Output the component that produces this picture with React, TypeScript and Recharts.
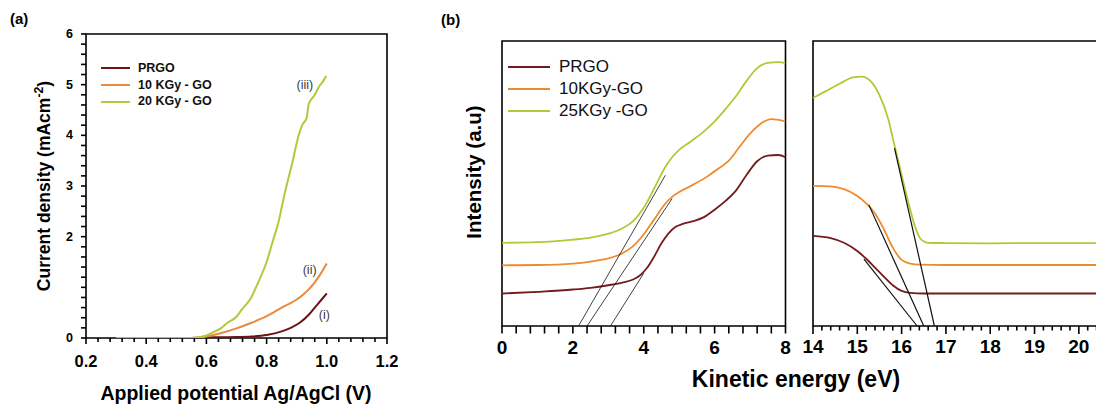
import React from "react";
import {
  Legend,
  Line,
  LineChart,
  ReferenceArea,
  ReferenceDot,
  ReferenceLine,
  XAxis,
  YAxis,
} from "recharts";

const FONT = '"Liberation Sans", Arial, Helvetica, sans-serif';

// ---------- (a) current density vs applied potential ----------
const A_NAMES = ["PRGO", "10 KGy - GO", "20 KGy - GO"];
const A_COLORS = ["#6e1216", "#e98a3c", "#b3c83c"];

const A_PRGO_X = [0.3, 0.5, 0.6, 0.65, 0.7, 0.75, 0.8, 0.85, 0.88, 0.91, 0.94, 0.96, 0.98, 1.0];
const A_PRGO_Y = [0, 0, 0.01, 0.015, 0.02, 0.03, 0.06, 0.13, 0.2, 0.3, 0.46, 0.6, 0.74, 0.88];

const A_10K_X = [0.3, 0.55, 0.58, 0.6, 0.65, 0.7, 0.75, 0.8, 0.85, 0.9, 0.92, 0.94, 0.96, 0.98, 1.0];
const A_10K_Y = [0, 0, 0.01, 0.03, 0.1, 0.19, 0.3, 0.43, 0.6, 0.76, 0.85, 0.96, 1.1, 1.27, 1.47];

const A_20K_X = [0.3, 0.55, 0.58, 0.6, 0.625, 0.65, 0.67, 0.7, 0.72, 0.745, 0.77, 0.8, 0.82, 0.84, 0.86, 0.885, 0.91, 0.92, 0.933, 0.94, 0.958, 0.975, 0.987, 0.998];
const A_20K_Y = [0, 0, 0.02, 0.05, 0.12, 0.2, 0.3, 0.42, 0.58, 0.76, 1.07, 1.5, 1.9, 2.3, 2.85, 3.45, 4.07, 4.22, 4.34, 4.62, 4.78, 4.97, 5.06, 5.17];

const A_X_LABELS = [0.2, 0.4, 0.6, 0.8, 1.0, 1.2];
const A_Y_LABELS = [0, 2, 3, 4, 5, 6];
const A_TAGS = ["(i)", "(ii)", "(iii)"];
const A_TAG_X = [0.992, 0.943, 0.927];
const A_TAG_Y = [0.45, 1.34, 4.99];

// ---------- (b) spectra, low and high kinetic energy windows ----------
const B_NAMES = ["PRGO", "10KGy-GO", "25KGy -GO"];
const B_COLORS = ["#741b1b", "#ef8b2c", "#b4c835"];

const B_LO_PRGO_X = [0, 1, 2, 2.5, 3, 3.4, 3.7, 3.9, 4.1, 4.3, 4.5, 4.7, 4.9, 5.1, 5.4, 5.7, 6.0, 6.3, 6.6, 6.9, 7.2, 7.5, 7.8, 8.0];
const B_LO_PRGO_Y = [11.4, 12.0, 12.8, 13.4, 14.3, 15.2, 16.3, 17.8, 20.5, 24.5, 29, 32.5, 34.8, 35.8, 36.8, 38.2, 40.8, 43.8, 47.5, 53, 57.8, 59.8, 60, 59.2];

const B_LO_10K_X = [0, 1, 2, 2.5, 3, 3.4, 3.7, 4.0, 4.3, 4.6, 4.8, 5.0, 5.4, 5.8, 6.1, 6.4, 6.7, 7.0, 7.3, 7.6, 8.0];
const B_LO_10K_Y = [21.3, 21.4, 21.9, 22.6, 23.7, 25.5, 28, 32.2, 37.5, 42.8, 45.3, 47, 49.6, 52.5, 55.2, 58, 62.8, 67.5, 71, 72.6, 71.8];

const B_LO_25K_X = [0, 1, 2, 2.5, 3, 3.4, 3.7, 4.0, 4.3, 4.6, 4.8, 5.0, 5.3, 5.7, 6.0, 6.3, 6.6, 6.9, 7.2, 7.5, 7.8, 8.0];
const B_LO_25K_Y = [29.2, 29.4, 30.3, 31.0, 32.4, 34.3, 36.8, 41.5, 48.4, 55.6, 59.2, 61.8, 64.5, 68.3, 71.8, 76, 80.6, 86, 90.5, 92.3, 92.6, 92.2];

const B_HI_PRGO_X = [14, 14.4, 14.7, 15, 15.2, 15.4, 15.6, 15.8, 16, 16.2, 16.5, 17, 18, 19, 20, 20.5];
const B_HI_PRGO_Y = [31.6, 30.8, 29.2, 26.3, 23.6, 20.5, 17.3, 14.3, 12.3, 11.6, 11.4, 11.4, 11.4, 11.4, 11.4, 11.4];

const B_HI_10K_X = [14, 14.4, 14.7, 15, 15.2, 15.4, 15.6, 15.8, 16, 16.2, 16.4, 17, 18, 19, 20, 20.5];
const B_HI_10K_Y = [49.2, 49, 48, 45.6, 43, 39.5, 34, 27.5, 23.2, 21.9, 21.5, 21.4, 21.4, 21.4, 21.4, 21.4];

const B_HI_25K_X = [14, 14.3, 14.6, 14.9, 15.1, 15.3, 15.5, 15.7, 15.8, 15.9, 16.0, 16.1, 16.2, 16.3, 16.45, 16.6, 17, 18, 19, 20, 20.5];
const B_HI_25K_Y = [80, 82.5, 85, 87.2, 87.5, 85.9, 81, 72.5, 66, 59.5, 53, 46.5, 40.5, 35, 30.2, 29.2, 29.1, 29, 29.1, 29.1, 29.1];

// tangent segments [x1, y1, x2, y2]
const B_LO_TANGENTS = [
  [2.16, 0, 4.61, 52.9],
  [2.4, 0, 4.8, 44.7],
  [3.06, 0, 4.0, 18.5],
];
const B_HI_TANGENTS = [
  [15.84, 62.4, 16.74, 0],
  [15.26, 42.5, 16.5, 0],
  [15.15, 23.5, 16.35, 0],
];

const B_LO_LABELS = [0, 2, 4, 6, 8];
const B_HI_LABELS = [14, 15, 16, 17, 18, 19, 20];

const pts = (xs: number[], ys: number[]) => xs.map((x, i) => ({ x, y: ys[i] }));
const steps = (a: number, b: number, s: number) => {
  const out: number[] = [];
  for (let v = a; v <= b + 1e-9; v += s) out.push(+v.toFixed(4));
  return out;
};
const isIn = (list: number[], v: number) => list.some((m) => Math.abs(m - v) < 1e-6);

type TickCfg = {
  majors: number[];
  majorLen: number;
  minorLen: number;
  fontSize: number;
  gap: number;
  fmt: (v: number) => string;
};
const TW = 1.6; // tick mark thickness

// the axis tick renderer only writes labels on the major values;
// the marks themselves are reference segments (see tickMarksX / tickMarksY)
function BottomLabel(props: any) {
  const { x, y, payload, cfg } = props as { x: number; y: number; payload: any; cfg: TickCfg };
  const v = payload.value;
  if (!isIn(cfg.majors, v)) return <g />;
  return (
    <text x={x} y={y + cfg.gap} textAnchor="middle" dominantBaseline="central" fontFamily={FONT} fontWeight="bold" fontSize={cfg.fontSize} fill="#000">
      {cfg.fmt(v)}
    </text>
  );
}

function LeftLabel(props: any) {
  const { x, y, payload, cfg } = props as { x: number; y: number; payload: any; cfg: TickCfg };
  const v = payload.value;
  if (!isIn(cfg.majors, v)) return <g />;
  return (
    <text x={x - cfg.gap} y={y} textAnchor="end" dominantBaseline="central" fontFamily={FONT} fontWeight="bold" fontSize={cfg.fontSize} fill="#000">
      {cfg.fmt(v)}
    </text>
  );
}

const A_XTICK: TickCfg = { majors: A_X_LABELS, majorLen: 6, minorLen: 4, fontSize: 16.5, gap: 23, fmt: (v) => v.toFixed(1) };
const A_YTICK: TickCfg = { majors: A_Y_LABELS, majorLen: 5, minorLen: 5, fontSize: 12.5, gap: 13, fmt: (v) => String(v) };
const B_LO_TICK: TickCfg = { majors: B_LO_LABELS, majorLen: 7.5, minorLen: 7.5, fontSize: 19, gap: 21, fmt: (v) => String(v) };
const B_HI_TICK: TickCfg = { majors: B_HI_LABELS, majorLen: 8, minorLen: 4.5, fontSize: 19, gap: 20, fmt: (v) => String(v) };

// tick marks as short reference segments hanging outside the frame
// (pixel length converted into each chart's data units)
const tickMarksX = (vals: number[], cfg: TickCfg, yMin: number, unitsPerPx: number) =>
  vals.map((v) => {
    const len = (isIn(cfg.majors, v) ? cfg.majorLen : cfg.minorLen) * unitsPerPx;
    return (
      <ReferenceLine key={`tx${v}`} segment={[{ x: v, y: yMin }, { x: v, y: yMin - len }]} stroke="#000" strokeWidth={TW} ifOverflow="visible" />
    );
  });
const tickMarksY = (vals: number[], cfg: TickCfg, xMin: number, unitsPerPx: number) =>
  vals.map((v) => {
    const len = (isIn(cfg.majors, v) ? cfg.majorLen : cfg.minorLen) * unitsPerPx;
    return (
      <ReferenceLine key={`ty${v}`} segment={[{ x: xMin, y: v }, { x: xMin - len, y: v }]} stroke="#000" strokeWidth={TW} ifOverflow="visible" />
    );
  });

function LegendBox(p: { names: string[]; colors: string[]; rowH: number; lineW: number; lineT: number; gap: number; fontSize: number; bold: boolean }) {
  return (
    <div style={{ fontFamily: FONT }}>
      {p.names.map((n, i) => (
        <div key={n} style={{ display: "flex", alignItems: "center", height: p.rowH }}>
          <span style={{ display: "inline-block", width: p.lineW, borderTop: `${p.lineT}px solid ${p.colors[i]}`, marginRight: p.gap }} />
          <span style={{ fontSize: p.fontSize, fontWeight: p.bold ? "bold" : "normal", color: "#111", whiteSpace: "nowrap", lineHeight: 1 }}>{n}</span>
        </div>
      ))}
    </div>
  );
}

const absText = (s: React.CSSProperties): React.CSSProperties => ({
  position: "absolute",
  fontFamily: FONT,
  fontWeight: "bold",
  color: "#000",
  whiteSpace: "nowrap",
  lineHeight: 1,
  ...s,
});

const axisCommon = {
  interval: 0 as const,
  allowDataOverflow: true,
  axisLine: false,
  tickLine: false,
  tickSize: 0,
  tickMargin: 0,
};

export default function App() {
  const aSeries = [pts(A_PRGO_X, A_PRGO_Y), pts(A_10K_X, A_10K_Y), pts(A_20K_X, A_20K_Y)];
  const bLo = [pts(B_LO_PRGO_X, B_LO_PRGO_Y), pts(B_LO_10K_X, B_LO_10K_Y), pts(B_LO_25K_X, B_LO_25K_Y)];
  const bHi = [pts(B_HI_PRGO_X, B_HI_PRGO_Y), pts(B_HI_10K_X, B_HI_10K_Y), pts(B_HI_25K_X, B_HI_25K_Y)];

  const aXTicks = steps(0.2, 1.2, 0.04);
  const aYTicks = steps(0, 6, 0.2);
  const bLoTicks = steps(0, 8, 0.4);
  const bHiTicks = steps(14, 20.4, 0.2);

  return (
    <div style={{ position: "absolute", left: 0, top: 0, width: 1096, height: 410, overflow: "hidden", background: "#fff" }}>
      {/* panel (a) */}
      <div style={{ position: "absolute", left: 0, top: 0 }}>
        <LineChart width={420} height={410} margin={{ top: 34, right: 33, bottom: 42, left: 46 }}>
          <XAxis
            {...axisCommon}
            type="number"
            dataKey="x"
            domain={[0.2, 1.2]}
            ticks={aXTicks}
            height={30}
            tick={(p: any) => <BottomLabel {...p} cfg={A_XTICK} />}
          />
          <YAxis
            {...axisCommon}
            type="number"
            domain={[0, 6]}
            ticks={aYTicks}
            width={40}
            tick={(p: any) => <LeftLabel {...p} cfg={A_YTICK} />}
          />
          <ReferenceArea x1={0.2} x2={1.2} y1={0} y2={6} fill="none" stroke="#000" strokeWidth={1.6} ifOverflow="visible" />
          {tickMarksX(aXTicks, A_XTICK, 0, 6 / 304)}
          {tickMarksY(aYTicks, A_YTICK, 0.2, 1 / 301)}
          {aSeries.map((d, i) => (
            <Line key={A_NAMES[i]} data={d} dataKey="y" name={A_NAMES[i]} type="monotone" stroke={A_COLORS[i]} strokeWidth={2} dot={false} activeDot={false} isAnimationActive={false} />
          ))}
          {A_TAGS.map((t, i) => (
            <ReferenceDot
              key={t}
              x={A_TAG_X[i]}
              y={A_TAG_Y[i]}
              r={1}
              shape={(p: any) => (
                <text x={p.cx} y={p.cy} textAnchor="middle" dominantBaseline="central" fontFamily={FONT} fontSize={12.5} fill="#3a3a3a">
                  {t}
                </text>
              )}
            />
          ))}
          <Legend
            layout="horizontal"
            verticalAlign="middle"
            align="center"
            wrapperStyle={{ left: 101, top: 60, width: 140, height: 52 }}
            content={() => <LegendBox names={A_NAMES} colors={A_COLORS} rowH={16.7} lineW={29} lineT={2} gap={8} fontSize={12.5} bold />}
          />
        </LineChart>
      </div>

      {/* panel (b), low energy window */}
      <div style={{ position: "absolute", left: 440, top: 0 }}>
        <LineChart width={360} height={410} margin={{ top: 41, right: 14.5, bottom: 54, left: 62 }}>
          <XAxis
            {...axisCommon}
            type="number"
            dataKey="x"
            domain={[0, 8]}
            ticks={bLoTicks}
            height={30}
            tick={(p: any) => <BottomLabel {...p} cfg={B_LO_TICK} />}
          />
          <YAxis type="number" domain={[0, 100]} hide width={0} allowDataOverflow />
          <ReferenceArea x1={0} x2={8} y1={0} y2={100} fill="none" stroke="#000" strokeWidth={1.6} ifOverflow="visible" />
          {tickMarksX(bLoTicks, B_LO_TICK, 0, 100 / 285)}
          {bLo.map((d, i) => (
            <Line key={B_NAMES[i]} data={d} dataKey="y" name={B_NAMES[i]} type="monotone" stroke={B_COLORS[i]} strokeWidth={1.8} dot={false} activeDot={false} isAnimationActive={false} />
          ))}
          {B_LO_TANGENTS.map((s, i) => (
            <ReferenceLine key={i} segment={[{ x: s[0], y: s[1] }, { x: s[2], y: s[3] }]} stroke="#111" strokeWidth={0.8} ifOverflow="visible" />
          ))}
          <Legend
            layout="horizontal"
            verticalAlign="middle"
            align="center"
            wrapperStyle={{ left: 68, top: 55.5, width: 160, height: 67 }}
            content={() => <LegendBox names={B_NAMES} colors={B_COLORS} rowH={22.2} lineW={42} lineT={2.5} gap={9} fontSize={17} bold={false} />}
          />
        </LineChart>
      </div>

      {/* panel (b), high energy window */}
      <div style={{ position: "absolute", left: 790, top: 0 }}>
        <LineChart width={320} height={410} margin={{ top: 41, right: 9, bottom: 54, left: 23 }}>
          <XAxis
            {...axisCommon}
            type="number"
            dataKey="x"
            domain={[14, 20.5]}
            ticks={bHiTicks}
            height={30}
            tick={(p: any) => <BottomLabel {...p} cfg={B_HI_TICK} />}
          />
          <YAxis type="number" domain={[0, 100]} hide width={0} allowDataOverflow />
          <ReferenceArea x1={14} x2={20.5} y1={0} y2={100} fill="none" stroke="#000" strokeWidth={1.6} ifOverflow="visible" />
          {tickMarksX(bHiTicks, B_HI_TICK, 0, 100 / 285)}
          {bHi.map((d, i) => (
            <Line key={B_NAMES[i]} data={d} dataKey="y" name={B_NAMES[i]} type="monotone" stroke={B_COLORS[i]} strokeWidth={1.8} dot={false} activeDot={false} isAnimationActive={false} />
          ))}
          {B_HI_TANGENTS.map((s, i) => (
            <ReferenceLine key={i} segment={[{ x: s[0], y: s[1] }, { x: s[2], y: s[3] }]} stroke="#111" strokeWidth={1.2} ifOverflow="visible" />
          ))}
        </LineChart>
      </div>

      {/* panel letters and axis titles */}
      <div style={absText({ left: 10, top: 11, fontSize: 15 })}>(a)</div>
      <div style={absText({ left: 441, top: 12, fontSize: 15 })}>(b)</div>
      <div style={absText({ left: 43, top: 186, fontSize: 17.5, transform: "translate(-50%, -50%) rotate(-90deg)" })}>
        Current density (mAcm<sup style={{ fontSize: "0.7em", verticalAlign: "0.55em" }}>-2</sup>)
      </div>
      <div style={absText({ left: 236, top: 394, fontSize: 19.5, transform: "translate(-50%, -50%)" })}>Applied potential Ag/AgCl (V)</div>
      <div style={absText({ left: 474, top: 172, fontSize: 20.5, transform: "translate(-50%, -50%) rotate(-90deg)" })}>Intensity (a.u)</div>
      <div style={absText({ left: 796, top: 379, fontSize: 23, transform: "translate(-50%, -50%)" })}>Kinetic energy (eV)</div>
    </div>
  );
}
